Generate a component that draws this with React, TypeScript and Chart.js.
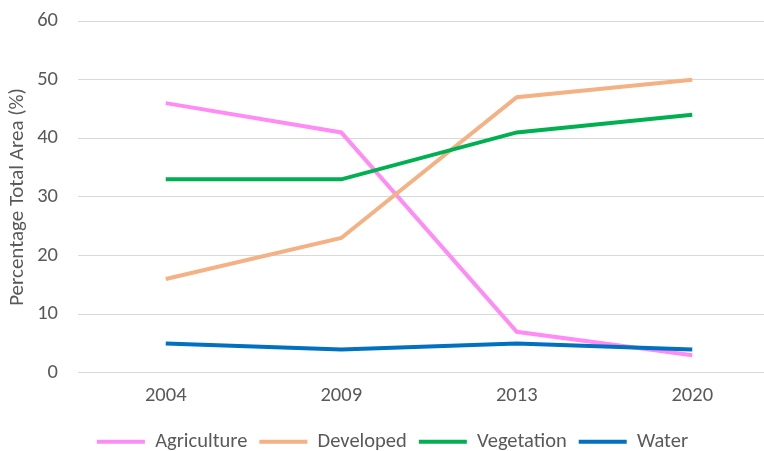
import React, { useEffect, useRef } from "react";
import { Chart, registerables } from "chart.js";

Chart.register(...registerables);

const years = ["2004", "2009", "2013", "2020"];
const agriculture = [46, 41, 7, 3];
const developed = [16, 23, 47, 50];
const vegetation = [33, 33, 41, 44];
const water = [5, 4, 5, 4];
const yTicks = [0, 10, 20, 30, 40, 50, 60];

const FONT = "Carlito, Calibri, Lato, 'Liberation Sans', sans-serif";
const TEXT = "#595959";

export default function App() {
  const ref = useRef<HTMLCanvasElement | null>(null);

  useEffect(() => {
    if (!ref.current) return;
    const line = (label: string, data: number[], color: string, order: number) => ({
      label,
      data,
      borderColor: color,
      backgroundColor: color,
      borderWidth: 4,
      pointRadius: 0,
      tension: 0,
      order,
    });
    const chart = new Chart(ref.current, {
      type: "line",
      data: {
        labels: years,
        datasets: [
          line("Agriculture", agriculture, "#FF8CF4", 4),
          line("Developed", developed, "#F4B183", 3),
          line("Vegetation", vegetation, "#00B050", 2),
          line("Water", water, "#0070C0", 1),
        ],
      },
      options: {
        animation: false,
        responsive: false,
        layout: { padding: { top: 21, right: 0, left: 5, bottom: -11 } },
        plugins: {
          tooltip: { enabled: false },
          legend: {
            position: "bottom",
            labels: {
              usePointStyle: true,
              pointStyleWidth: 48,
              pointStyle: "line",
              boxHeight: 20,
              padding: 12,
              color: TEXT,
              font: { family: FONT, size: 20.5 },
              sort: (a: any, b: any) => a.datasetIndex - b.datasetIndex,
            },
          },
        },
        scales: {
          x: {
            offset: true,
            grid: { display: false, drawTicks: false },
            border: { display: false },
            ticks: { color: TEXT, font: { family: FONT, size: 20.5 }, padding: 11 },
          },
          y: {
            min: 0,
            max: 60,
            afterBuildTicks: (axis: any) => {
              axis.ticks = yTicks.map((v) => ({ value: v }));
            },
            afterFit: (axis: any) => {
              axis.width = 73;
              axis.paddingTop = 0;
              axis.paddingBottom = 0;
            },
            grid: { color: "#D9D9D9", lineWidth: 1, drawTicks: false },
            border: { display: false },
            ticks: { color: TEXT, font: { family: FONT, size: 20.5 }, padding: 20 },
            title: {
              display: true,
              text: "Percentage Total Area (%)",
              color: TEXT,
              font: { family: FONT, size: 21 },
              padding: { top: 0, bottom: 0 },
            },
          },
        },
      },
    });
    return () => chart.destroy();
  }, []);

  return (
    <div style={{ position: "fixed", left: 0, top: 0, width: 764, height: 451, background: "#fff", overflow: "hidden" }}>
      <canvas ref={ref} width={780} height={451} />
    </div>
  );
}
